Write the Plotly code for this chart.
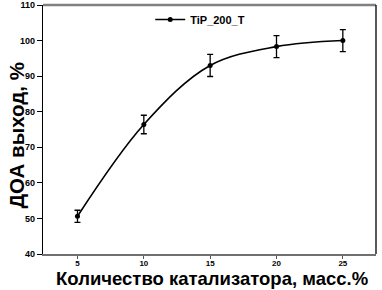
import plotly.graph_objects as go

catalyst = [5, 10, 15, 20, 25]
yield_pct = [50.6, 76.4, 93.0, 98.3, 100.0]
err = [1.7, 2.6, 3.1, 3.1, 3.1]
x_ticks = [5, 10, 15, 20, 25]
y_ticks = [40, 50, 60, 70, 80, 90, 100, 110]

FONT = "Liberation Sans"

fig = go.Figure()
fig.add_trace(go.Scatter(
    x=catalyst, y=yield_pct, mode="lines+markers", name="TiP_200_T",
    line=dict(color="black", width=1.6, shape="spline", smoothing=1.0),
    marker=dict(color="black", size=5),
    error_y=dict(type="data", array=err, visible=True, color="black", thickness=1.3, width=3),
))

fig.add_shape(type="line", xref="paper", yref="paper", x0=0, x1=1, y0=1, y1=1,
              line=dict(color="#808080", width=2.5))
fig.add_shape(type="line", xref="paper", yref="paper", x0=1, x1=1, y0=0, y1=1,
              line=dict(color="black", width=1.3))

fig.add_annotation(text="Количество катализатора, масс.%", xref="paper", yref="paper",
                   x=0.5, y=0, xshift=2, yshift=-36, xanchor="center", yanchor="bottom",
                   showarrow=False, borderpad=0,
                   font=dict(size=18.5, family=FONT, weight="bold", color="black"))
fig.add_annotation(text="ДОА выход, %", xref="paper", yref="paper",
                   x=0, y=0.5, xshift=-27, yshift=-6, xanchor="center", yanchor="middle",
                   textangle=-90, showarrow=False, borderpad=0,
                   font=dict(size=20.5, family=FONT, weight="bold", color="black"))

fig.update_layout(
    width=382, height=290,
    margin=dict(l=43, r=6, t=5, b=36, autoexpand=False),
    plot_bgcolor="white", paper_bgcolor="white",
    font=dict(family=FONT, color="black", weight="bold"),
    showlegend=True,
    legend=dict(x=0.322, y=1.0, xanchor="left", yanchor="top",
                bgcolor="rgba(0,0,0,0)", font=dict(size=11, family=FONT, weight="bold"),
                itemwidth=30, tracegroupgap=0),
    xaxis=dict(range=[2.4, 27.5], tickvals=x_ticks, ticks="outside", ticklen=3,
               tickwidth=1, tickcolor="#555", showgrid=False, zeroline=False,
               showline=True, linecolor="#707070", linewidth=1.5, automargin=False,
               ticklabelstandoff=-2,
               tickfont=dict(size=8, family=FONT, weight="bold")),
    yaxis=dict(range=[40, 110], tickvals=y_ticks, ticks="outside", ticklen=5,
               tickwidth=1, tickcolor="black", showgrid=False, zeroline=False,
               showline=True, linecolor="black", linewidth=1.3, automargin=False,
               tickfont=dict(size=9, family=FONT, weight="bold")),
)

fig.write_html("out.html", config={"displayModeBar": False},
               post_script="document.body.style.margin='0';document.body.style.overflow='hidden';")
